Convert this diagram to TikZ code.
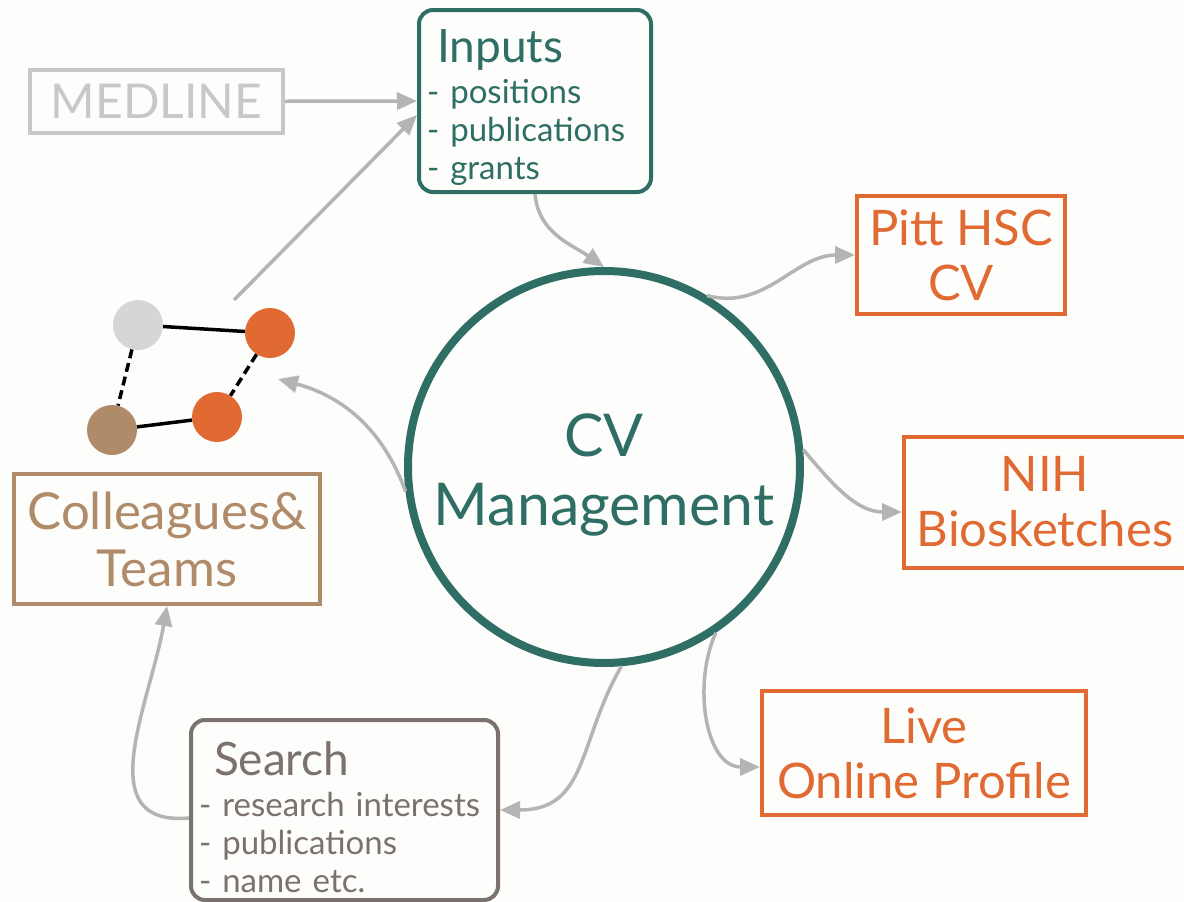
\documentclass[tikz,border=0pt]{standalone}
\usepackage{fontspec}
\setmainfont{Lato}
\usepackage{tikz}
\usetikzlibrary{arrows.meta,positioning}

\definecolor{cvteal}{RGB}{46,110,100}
\definecolor{cvorange}{RGB}{224,106,50}
\definecolor{cvtan}{RGB}{176,139,105}
\definecolor{cvlight}{RGB}{200,200,200}
\definecolor{cvdot}{RGB}{214,214,214}
\definecolor{cvsearch}{RGB}{123,113,109}
\definecolor{cvarrow}{RGB}{180,180,180}
\definecolor{cvbg}{RGB}{253,253,251}

\tikzstyle{outbox}=[rectangle,draw=cvorange,text=cvorange,line width=4pt,align=center,font=\fontsize{49}{55}\selectfont]
\tikzstyle{listbox}=[rectangle,rounded corners=14pt,line width=4pt,align=left,inner xsep=8pt,font=\fontsize{33}{38}\selectfont]
\tikzstyle{dot}=[circle,minimum size=50pt,inner sep=0pt]
\tikzstyle{tie}=[line width=3.5pt,black]
\tikzstyle{flow}=[draw=cvarrow,line width=3.5pt,-{Triangle[length=20pt,width=17pt]}]

\begin{document}
\begin{tikzpicture}[x=1pt,y=-1pt]
  \fill[cvbg] (0,0) rectangle (1184,902);
  \useasboundingbox (0,0) rectangle (1184,902);

  % hub
  \node[circle,draw=cvteal,line width=8pt,minimum size=392pt,text=cvteal,align=center,
        font=\fontsize{59}{69}\selectfont] at (604,467) (cv) {\rule{0pt}{58pt}CV\\Management};

  % sources
  \node[rectangle,draw=cvlight,text=cvlight,line width=4pt,minimum width=253pt,minimum height=63pt,
        font=\fontsize{48}{48}\selectfont] at (156.5,101.5) (medline) {MEDLINE};
  \node[listbox,draw=cvteal,text=cvteal,text width=216pt,minimum height=182pt] at (535,101) (inputs)
      {\rule{0pt}{47pt}\hspace*{10pt}{\fontsize{46}{46}\selectfont Inputs}\\[3pt]- positions\\- publications\\- grants};
  \node[listbox,draw=cvsearch,text=cvsearch,text width=291pt,minimum height=180pt] at (344.5,810) (search)
      {\rule{0pt}{48pt}\hspace*{15pt}{\fontsize{46}{46}\selectfont Search}\\[3pt]- research interests\\- publications\\- name etc.};
  \node[rectangle,draw=cvtan,text=cvtan,line width=4pt,align=center,minimum width=306pt,minimum height=130pt,
        font=\fontsize{51}{57}\selectfont] at (167,539) (team) {Colleagues\&\\Teams};

  % outputs
  \node[outbox,minimum width=208pt,minimum height=118pt] at (961,255) (pitt) {Pitt HSC\\CV};
  \node[outbox,minimum width=282pt,minimum height=131pt] at (1045,502) (nih) {NIH\\Biosketches};
  \node[outbox,minimum width=324pt,minimum height=124pt] at (924,753) (live) {Live\\Online Profile};

  % little network
  \node[dot,fill=cvdot] at (138,325) (p1) {};
  \node[dot,fill=cvorange] at (270,333) (p2) {};
  \node[dot,fill=cvtan] at (112,430) (p3) {};
  \node[dot,fill=cvorange] at (217,417) (p4) {};
  \draw[tie] (p1) -- (p2);
  \draw[tie] (p3) -- (p4);
  \draw[tie,dash pattern=on 9pt off 5pt] (p1) -- (p3);
  \draw[tie,dash pattern=on 9pt off 5pt] (p2) -- (p4);
  \coordinate (netout) at (234,300);
  \coordinate (netin) at (278,379);

  % arrows
  \draw[flow] (medline) -- (inputs.west);
  \draw[flow] (netout) -- ([yshift=-14pt]inputs.west);
  \draw[flow] (inputs.south) to[out=-85,in=145] (cv.north);
  \draw[flow] (cv.59) to[out=-15,in=180] (pitt.west);
  \draw[flow] (cv.5) to[out=-50,in=180] ([yshift=-10pt]nih.west);
  \draw[flow] (cv.-56) to[out=-115,in=180] ([yshift=-14pt]live.west);
  \draw[flow] (cv.-85) to[out=-120,in=0,looseness=1.2] (search.east);
  \draw[flow] (cv.187) to[out=110,in=-15] (netin);
  \draw[flow] ([yshift=-8pt]search.west) to[out=185,in=-100,looseness=1.2] (team.south);
\end{tikzpicture}
\end{document}
